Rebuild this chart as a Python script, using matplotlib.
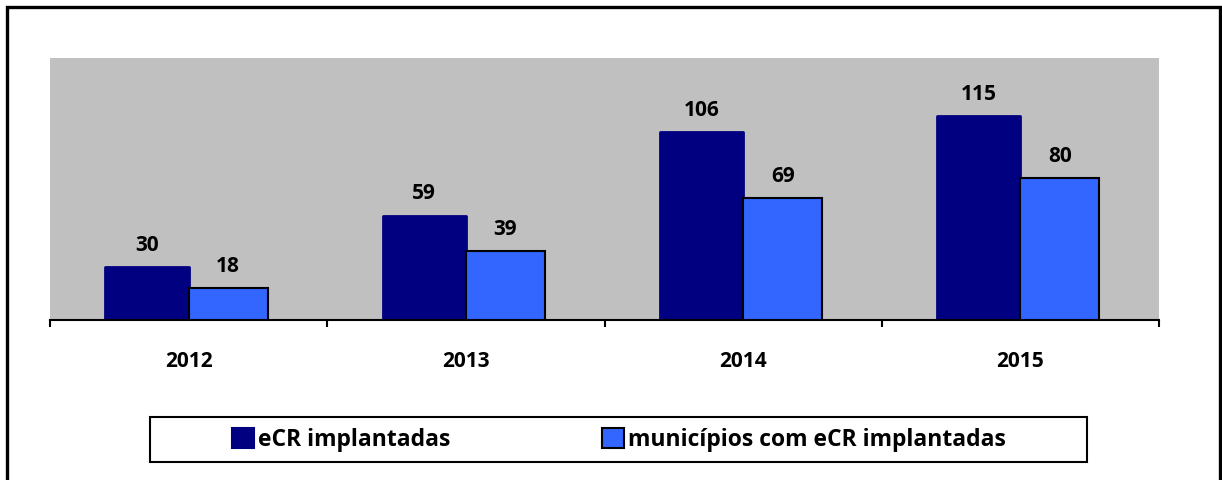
import numpy as np
import matplotlib
matplotlib.use('Agg')
import matplotlib.pyplot as plt
from matplotlib.patches import Rectangle, Patch

# dados
anos = ['2012', '2013', '2014', '2015']
ecr = [30, 59, 106, 115]
municipios = [18, 39, 69, 80]

plt.rcParams['font.family'] = ['Open Sans', 'DejaVu Sans']
plt.rcParams['font.weight'] = 'bold'

W, H = 1222, 480
fig = plt.figure(figsize=(W/100, H/100), dpi=100)

# borda externa
fig.patches.append(Rectangle((7/W, -0.05), (1220-7)/W, (H-7)/H + 0.05,
                             transform=fig.transFigure, fill=False,
                             edgecolor='black', linewidth=2.4))

ax = fig.add_axes([50/W, (H-320)/H, 1109/W, 262/H])
ax.set_facecolor('#C0C0C0')

x = np.arange(len(anos))
b1 = ax.bar(x - 0.30, ecr, width=0.30, align='edge', color='#000080',
            edgecolor='#000080', linewidth=2, joinstyle='round',
            label='eCR implantadas', zorder=2)
b2 = ax.bar(x, municipios, width=0.285, align='edge', color='#3366FF',
            edgecolor='black', linewidth=1.5,
            label='municípios com eCR implantadas', zorder=3)

ax.bar_label(b1, padding=8, fontsize=15, fontweight='bold')
ax.bar_label(b2, padding=8, fontsize=15, fontweight='bold')

ax.set_xlim(-0.5, len(anos) - 0.5)
ax.set_ylim(0, 148)

for s in ['top', 'right', 'left']:
    ax.spines[s].set_visible(False)
ax.spines['bottom'].set_linewidth(1.5)
ax.spines['bottom'].set_color('black')

ax.set_yticks([])
ax.set_xticks(x)
ax.set_xticklabels(anos, fontsize=15, fontweight='bold')
ax.tick_params(axis='x', which='major', length=0, pad=22)
ax.set_xticks(np.arange(len(anos) + 1) - 0.5, minor=True)
ax.tick_params(axis='x', which='minor', length=5, width=1.5, direction='out')

# caixa da legenda
fig.patches.append(Rectangle((150/W, (H-462)/H), (1087-150)/W, 45/H,
                             transform=fig.transFigure, fill=False,
                             edgecolor='black', linewidth=1.5))
handles = [Patch(facecolor='#000080', edgecolor='#000080', linewidth=1.5),
           Patch(facecolor='#3366FF', edgecolor='black', linewidth=1.5)]
fig.legend(handles, ['eCR implantadas', 'municípios com eCR implantadas'],
           loc='center', bbox_to_anchor=(619/W, (H-439.5)/H), ncol=2,
           frameon=False, prop={'size': 16.5, 'weight': 'bold'},
           handlelength=0.95, handleheight=0.95, handletextpad=0.2,
           columnspacing=6.6)

fig.savefig('out.png', dpi=100)
